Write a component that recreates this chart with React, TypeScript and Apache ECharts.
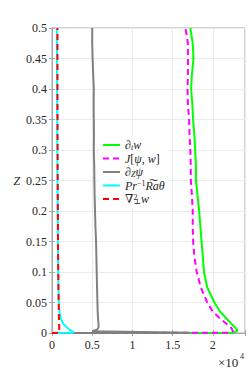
import React, { useEffect, useRef } from "react";
import * as echarts from "echarts";

// Shared vertical coordinate Z
const Z = [0, 0.0005, 0.003, 0.006, 0.01, 0.015, 0.025, 0.035, 0.05, 0.075, 0.1, 0.125, 0.15, 0.175, 0.2, 0.225, 0.25, 0.275, 0.3, 0.325, 0.35, 0.375, 0.4, 0.425, 0.45, 0.475, 0.5];

// Values (in units of 1e4)
const dtW = [0, 2.24, 2.3, 2.3, 2.27, 2.23, 2.16, 2.09, 2.02, 1.93, 1.89, 1.875, 1.86, 1.845, 1.83, 1.81, 1.79, 1.79, 1.78, 1.77, 1.755, 1.745, 1.73, 1.74, 1.76, 1.75, 1.72];
const jPsiW = [0, 2.2, 2.25, 2.24, 2.22, 2.17, 2.08, 2.0, 1.93, 1.85, 1.8, 1.77, 1.755, 1.75, 1.75, 1.74, 1.727, 1.725, 1.72, 1.71, 1.705, 1.69, 1.685, 1.69, 1.69, 1.69, 1.66];
const dzPsi = [0, 1.72, 0.5, 0.565, 0.58, 0.578, 0.572, 0.568, 0.565, 0.56, 0.556, 0.552, 0.548, 0.54, 0.535, 0.53, 0.527, 0.525, 0.52, 0.522, 0.52, 0.518, 0.52, 0.512, 0.505, 0.5, 0.5];
const buoy = [0, 0.27, 0.25, 0.21, 0.18, 0.14, 0.105, 0.093, 0.085, 0.08, 0.077, 0.075, 0.073, 0.072, 0.07, 0.07, 0.068, 0.067, 0.066, 0.065, 0.065, 0.064, 0.063, 0.062, 0.062, 0.061, 0.06];
const lapW = [0, 0.09, 0.09, 0.09, 0.09, 0.088, 0.086, 0.085, 0.083, 0.08, 0.078, 0.076, 0.075, 0.074, 0.073, 0.072, 0.071, 0.07, 0.07, 0.069, 0.069, 0.068, 0.068, 0.068, 0.068, 0.068, 0.068];

const SCALE = 10000;
const xTicks = [0, 0.5, 1, 1.5, 2];

const FONT = "'Liberation Serif', 'Times New Roman', 'DejaVu Serif', serif";

const seriesDefs = [
  { name: "dtw", label: "{r|∂}{sb|t}{m|w}", data: dtW, color: "#00ff00", dash: "solid" as any },
  { name: "J", label: "{m|J}{r|[}{m|ψ}{r|, }{m|w}{r|]}", data: jPsiW, color: "#ff00ff", dash: [6, 4] },
  { name: "dzpsi", label: "{r|∂}{sb|Z}{m|ψ}", data: dzPsi, color: "#808080", dash: "solid" },
  { name: "buoy", label: "{m|Pr}{sp|−1}{m|R͠aθ}", data: buoy, color: "#00ffff", dash: "solid" },
  { name: "lap", label: "{r|∇}{sp0|2}{sb|⊥}{m|w}", data: lapW, color: "#ff0000", dash: [6, 4] },
];

export default function App() {
  const ref = useRef<HTMLDivElement>(null);
  useEffect(() => {
    if (!ref.current) return;
    const chart = echarts.init(ref.current, null, { renderer: "svg" });
    const labelMap: Record<string, string> = {};
    seriesDefs.forEach((s) => (labelMap[s.name] = s.label));
    const axisColor = "#a6a6a6";
    const textColor = "#262626";
    chart.setOption({
      animation: false,
      backgroundColor: "#ffffff",
      grid: { left: 52, right: 4, top: 28, bottom: 41, show: true, borderColor: axisColor, borderWidth: 1 },
      xAxis: [
        {
          type: "value",
          min: 0,
          max: 24000,
          interval: 5000,
          axisLine: { show: true, lineStyle: { color: axisColor } },
          axisTick: { show: true, inside: true, length: 3, lineStyle: { color: axisColor } },
          axisLabel: {
            margin: 6,
            fontFamily: FONT,
            fontSize: 12,
            color: textColor,
            formatter: (v: number) => {
              const t = v / SCALE;
              return xTicks.includes(t) ? String(t) : "";
            },
          },
          splitLine: { show: true, lineStyle: { color: "#ebebeb" } },
        },
        {
          type: "value",
          position: "top",
          min: 0,
          max: 24000,
          interval: 5000,
          axisLine: { show: true, lineStyle: { color: axisColor } },
          axisTick: { show: true, inside: true, length: 3, lineStyle: { color: axisColor } },
          axisLabel: { show: false },
          splitLine: { show: false },
        },
      ],
      yAxis: [
        {
          type: "value",
          min: 0,
          max: 0.5,
          interval: 0.05,
          name: "Z",
          nameLocation: "middle",
          nameRotate: 0,
          nameGap: 31,
          nameTextStyle: { fontFamily: FONT, fontStyle: "italic", fontSize: 12, color: textColor },
          axisLine: { show: true, lineStyle: { color: axisColor } },
          axisTick: { show: true, inside: true, length: 3, lineStyle: { color: axisColor } },
          axisLabel: {
            margin: 5,
            fontFamily: FONT,
            fontSize: 12,
            color: textColor,
            formatter: (v: number) => String(+v.toFixed(2)),
          },
          splitLine: { show: true, lineStyle: { color: "#ebebeb" } },
        },
        {
          type: "value",
          position: "right",
          min: 0,
          max: 0.5,
          interval: 0.05,
          axisLine: { show: true, lineStyle: { color: axisColor } },
          axisTick: { show: true, inside: true, length: 3, lineStyle: { color: axisColor } },
          axisLabel: { show: false },
          splitLine: { show: false },
        },
      ],
      legend: {
        orient: "vertical",
        left: 99,
        top: 136,
        padding: [3, 4, 3, 3],
        itemWidth: 17,
        itemHeight: 8,
        itemGap: 1.5,
        backgroundColor: "#ffffff",
        itemStyle: { opacity: 0, color: "rgba(0,0,0,0)", borderWidth: 0 },
        data: seriesDefs.map((s) => s.name),
        formatter: (name: string) => labelMap[name],
        textStyle: {
          fontFamily: FONT,
          fontSize: 12,
          color: textColor,
          lineHeight: 12,
          rich: {
            m: { fontFamily: FONT, fontStyle: "italic", fontSize: 12, lineHeight: 12, color: textColor },
            r: { fontFamily: FONT, fontSize: 12, lineHeight: 12, color: textColor },
            sb: { fontFamily: FONT, fontStyle: "italic", fontSize: 8, lineHeight: 8, verticalAlign: "bottom", color: textColor },
            sp: { fontFamily: FONT, fontSize: 8, lineHeight: 8, verticalAlign: "top", color: textColor },
            sp0: { fontFamily: FONT, fontSize: 8, lineHeight: 8, verticalAlign: "top", width: 0, color: textColor },
          },
        },
      },
      graphic: [
        { type: "text", left: 218, top: 356, style: { text: "×10", fontFamily: FONT, fontSize: 13, fill: textColor } },
        { type: "text", left: 240, top: 352, style: { text: "4", fontFamily: FONT, fontSize: 8, fill: textColor } },
      ],
      series: seriesDefs.map((s) => ({
        name: s.name,
        type: "line",
        xAxisIndex: 0,
        yAxisIndex: 0,
        symbol: "none",
        data: s.data.map((v, i) => [v * SCALE, Z[i]]),
        lineStyle: { color: s.color, width: 2, type: s.dash },
        itemStyle: { color: s.color },
      })),
    });
    return () => chart.dispose();
  }, []);
  return <div ref={ref} style={{ position: "absolute", left: 0, top: 0, width: 249, height: 374 }} />;
}
